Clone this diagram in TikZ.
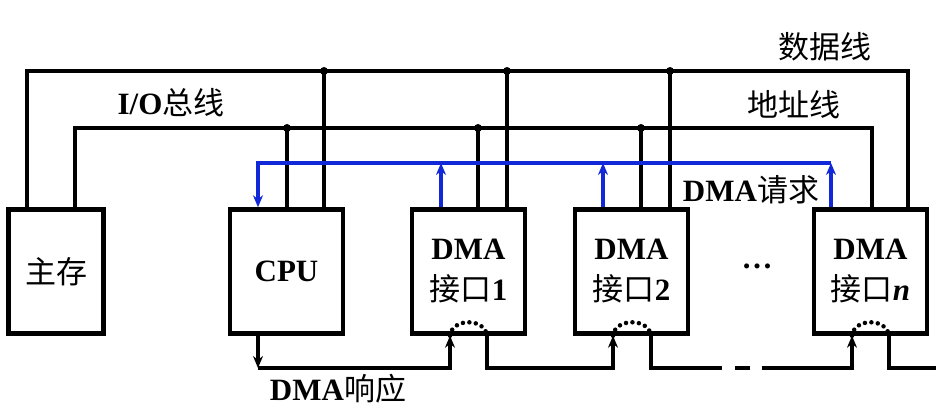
\documentclass[tikz,border=0pt]{standalone}
\usepackage{fontspec}
\setmainfont{Liberation Serif}
\newfontfamily\cjk{Noto Sans CJK SC}
\newcommand\zhtext[1]{{\cjk\mdseries #1}}
\usetikzlibrary{arrows.meta}
\definecolor{reqblue}{RGB}{16,40,215}
\tikzset{
	box/.style={draw, line width=4.5pt, minimum width=113pt, minimum height=124pt, inner sep=0pt, align=center, font=\fontsize{31}{41}\selectfont},
	lab/.style={inner sep=0pt, font=\fontsize{31}{36}\selectfont},
	bus/.style={line width=4pt},
	req/.style={draw=reqblue, line width=4pt},
	resp/.style={line width=4pt},
	chain/.style={line width=4.5pt, line cap=round, dash pattern=on 0pt off 6.5pt},
	>={Stealth[length=12pt,width=10pt]}
}
\begin{document}
\begin{tikzpicture}[x=1pt,y=-1pt]
	\useasboundingbox (0,0) rectangle (943,409);
	\node[box, minimum width=95pt] (mem) at (56,271.5) {\zhtext{主存}};
	\node[box] (cpu) at (286.5,271.5) {\bfseries CPU};
	\node[box] (dma1) at (468.5,271.5) {\bfseries DMA\\\zhtext{接口}\textbf{1}};
	\node[box] (dma2) at (631.5,271.5) {\bfseries DMA\\\zhtext{接口}\textbf{2}};
	\node[box] (dman) at (870.5,271.5) {\bfseries DMA\\\zhtext{接口}\textbf{\textit{n}}};
	\node[lab] (dots) at (757,266) {\textbf{\dots}};
	\coordinate (dL) at (27,71);
	\coordinate (dC) at (324,71);
	\coordinate (d1) at (507,71);
	\coordinate (d2) at (670,71);
	\coordinate (dR) at (908,71);
	\coordinate (aL) at (75,128);
	\coordinate (aC) at (287,128);
	\coordinate (a1) at (478,128);
	\coordinate (a2) at (641,128);
	\coordinate (aR) at (872,128);
	\coordinate (rC) at (258,163);
	\coordinate (r1) at (441,163);
	\coordinate (r2) at (603,163);
	\coordinate (rR) at (831,163);
	\draw[bus] (mem.north -| dL) -- (dL) -- (dR) -- (dman.north -| dR);
	\draw[bus] (mem.north -| aL) -- (aL) -- (aR) -- (dman.north -| aR);
	\foreach \p/\b in {dC/cpu,d1/dma1,d2/dma2,aC/cpu,a1/dma1,a2/dma2} {
		\draw[bus] (\p) -- (\b.north -| \p);
		\fill (\p) circle (4pt);
	}
	\draw[req,->] (dman.north -| rR) -- (rR);
	\draw[req,->] (rR) -- (rC) -- (cpu.north -| rC);
	\draw[req,->] (dma1.north -| r1) -- (r1);
	\draw[req,->] (dma2.north -| r2) -- (r2);
	\coordinate (k0) at (258,368);
	\coordinate (i1) at (450,368);
	\coordinate (o1) at (487,368);
	\coordinate (i2) at (613,368);
	\coordinate (o2) at (651,368);
	\coordinate (iN) at (852,368);
	\coordinate (oN) at (889,368);
	\coordinate (g1) at (722,368);
	\coordinate (g2) at (735,368);
	\coordinate (g3) at (750,368);
	\coordinate (g4) at (762,368);
	\coordinate (eN) at (936,368);
	\draw[resp,->] (cpu.south -| k0) -- (k0);
	\draw[resp,->] (k0) -- (i1) -- (dma1.south -| i1);
	\draw[resp,->] (dma1.south -| o1) -- (o1) -- (i2) -- (dma2.south -| i2);
	\draw[resp] (dma2.south -| o2) -- (o2) -- (g1);
	\draw[resp] (g2) -- (g3);
	\draw[resp,->] (g4) -- (iN) -- (dman.south -| iN);
	\draw[resp] (dman.south -| oN) -- (oN) -- (eN);
	\foreach \b/\i/\o in {dma1/i1/o1,dma2/i2/o2,dman/iN/oN}
		\draw[chain] (\b.south -| \i) .. controls +(2,-18) and +(-2,-18) .. (\b.south -| \o);
	\node[lab] (datalab) at (825,47) {\zhtext{数据线}};
	\node[lab] (addrlab) at (794,105) {\zhtext{地址线}};
	\node[lab] (buslab) at (171,103) {\textbf{I/O}\zhtext{总线}};
	\node[lab] (reqlab) at (751,190) {\textbf{DMA}\zhtext{请求}};
	\node[lab] (acklab) at (338,389) {\textbf{DMA}\zhtext{响应}};
\end{tikzpicture}
\end{document}
